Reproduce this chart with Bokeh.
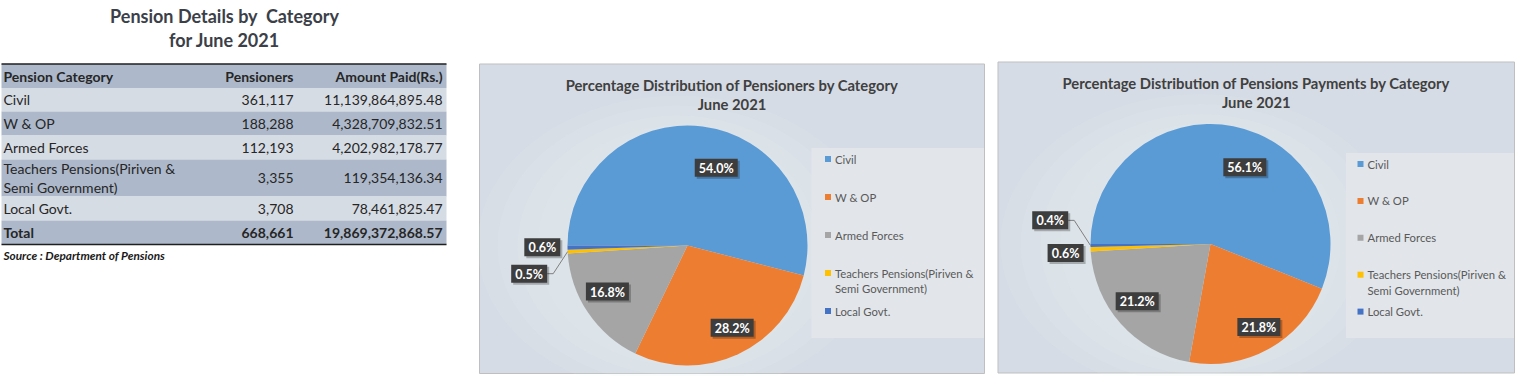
import numpy as np
from bokeh.plotting import figure
from bokeh.models import ColumnDataSource, Range1d
from bokeh.core.properties import value
from bokeh.embed import file_html
from bokeh.resources import INLINE

# ---------------- data ----------------
categories = ["Civil", "W & OP", "Armed Forces",
              "Teachers Pensions(Piriven &\nSemi Government)", "Local Govt."]
pensioners = [361117, 188288, 112193, 3355, 3708]
amounts = [11139864895.48, 4328709832.51, 4202982178.77, 119354136.34, 78461825.47]
total_pensioners = 668661
total_amount = 19869372868.57
table_title = ["Pension Details by\u00a0 Category", "for June 2021"]
table_headers = ["Pension Category", "Pensioners", "Amount Paid(Rs.)"]
source_note = "Source : Department of Pensions"
pie1_title = ["Percentage Distribution of Pensioners by Category", "June 2021"]
pie2_title = ["Percentage Distribution of Pensions Payments by Category", "June 2021"]
colors = ["#5b9bd5", "#ed7d31", "#a5a5a5", "#ffc000", "#4472c4"]

# ---------------- layout ----------------
W, H = 1519, 376
FONT = value("Lato")


def Y(ys):
    """screen y (px from top of window) -> data y"""
    return H - np.asarray(ys, dtype=float)


p = figure(width=W, height=H, x_range=Range1d(0, W), y_range=Range1d(0, H),
           output_backend="svg", toolbar_location=None, min_border=0,
           background_fill_color="white", border_fill_color="white")
p.axis.visible = False
p.grid.visible = False
p.outline_line_color = None


def txt(xs, ys, texts, size, color="#262626", align="left", style="normal",
        baseline="middle"):
    src = ColumnDataSource(dict(x=list(xs), y=list(Y(ys)), t=list(texts)))
    p.text(x="x", y="y", text="t", source=src, text_font=FONT,
           text_font_size=f"{size}px", text_color=color, text_align=align,
           text_baseline=baseline, text_font_style=style)


# ---------------- table ----------------
TX0, TX1 = 1, 446
txt([224, 224], [15, 39], table_title, 18, color="#3b4048", align="center", style="bold")

row_bounds = [63.5, 87.5, 111, 135, 159, 196, 220, 244]
band_dark, band_light = "#adb9ca", "#d6dce4"
for i in range(len(row_bounds) - 1):
    top, bot = row_bounds[i], row_bounds[i + 1]
    col = band_dark if i % 2 == 0 else band_light
    p.quad(left=TX0, right=TX1, top=Y(top), bottom=Y(bot), fill_color=col,
           line_color=None)
p.line(x=[TX0, TX1], y=list(Y([63.5, 63.5])), line_color="#1f1f1f", line_width=1.5)
p.line(x=[TX0, TX1], y=list(Y([244, 244])), line_color="#1f1f1f", line_width=1.5)

COL_L, COL_P, COL_A = 3, 293, 442
hy = (row_bounds[0] + row_bounds[1]) / 2
txt([COL_L], [hy], [table_headers[0]], 14, style="bold")
txt([COL_P, COL_A], [hy, hy], table_headers[1:], 14, align="right", style="bold")

for i, cat in enumerate(categories):
    top, bot = row_bounds[i + 1], row_bounds[i + 2]
    cy = (top + bot) / 2
    lines = cat.split("\n")
    n = len(lines)
    ly = [cy + (k - (n - 1) / 2) * 19 for k in range(n)]
    txt([COL_L] * n, ly, lines, 14)
    txt([COL_P, COL_A], [cy, cy], [f"{pensioners[i]:,}", f"{amounts[i]:,.2f}"], 14,
        align="right")

ty = (row_bounds[-2] + row_bounds[-1]) / 2
txt([COL_L], [ty], ["Total"], 14, style="bold")
txt([COL_P, COL_A], [ty, ty], [f"{total_pensioners:,}", f"{total_amount:,.2f}"], 14,
    align="right", style="bold")
txt([3], [255], [source_note], 11.8, color="#1a1a1a", style="bold italic")


# ---------------- pies ----------------
def draw_pie(box, title, vals, cx, cy, r, rho, delta, leg_box, leg_x, leg_y0, leg_dy):
    bx0, by0, bx1, by1 = box
    p.quad(left=bx0, right=bx1, top=Y(by0), bottom=Y(by1), fill_color="#d6dce5",
           line_color="#bfbfbf", line_width=1)
    # soft lighter glow behind pie
    for k in range(4):
        p.ellipse(x=cx - 10, y=Y(cy)[()], width=2 * r + 160 - k * 40,
                  height=2 * r + 60 - k * 20, fill_color="#eef1f5", fill_alpha=0.10,
                  line_color=None)
    lx0, ly0, lx1, ly1 = leg_box
    p.quad(left=lx0, right=lx1, top=Y(ly0), bottom=Y(ly1), fill_color="#e2e6eb",
           line_color=None)
    title_cx = (bx0 + bx1) / 2
    txt([title_cx, title_cx], [by0 + 21, by0 + 40], title, 14.8, color="#404040",
        align="center", style="bold")

    v = np.asarray(vals, dtype=float)
    frac = v / v.sum()
    cum = np.concatenate([[0.0], np.cumsum(frac)])
    start = np.radians(180 - cum[:-1] * 360)
    end = np.radians(180 - cum[1:] * 360)
    p.wedge(x=cx, y=Y(cy)[()], radius=r, start_angle=list(start), end_angle=list(end),
            direction="clock", fill_color=colors, line_color=None)

    mid = 180 - (cum[:-1] + cum[1:]) / 2 * 360
    ang = np.radians(mid + np.asarray(delta))
    rr = np.asarray(rho) * r
    lxs = cx + rr * np.cos(ang)
    lys = cy - rr * np.sin(ang)
    labels = [f"{f * 100:.1f}%" for f in frac]
    widths = np.array([8 + 7 * len(s) for s in labels], dtype=float)
    bh = 18
    # leader lines for far-out labels
    for i in range(len(vals)):
        if rho[i] > 1.3:
            ex = lxs[i] + widths[i] / 2
            m = np.radians(mid[i])
            px_, py_ = cx + r * np.cos(m), cy - r * np.sin(m)
            p.line(x=[ex, ex + 6, px_], y=list(Y([lys[i], lys[i], py_])),
                   line_color="#7f7f7f", line_width=1)
    # shadows
    p.quad(left=lxs - widths / 2 + 2, right=lxs + widths / 2 + 2,
           top=Y(lys - bh / 2 + 2), bottom=Y(lys + bh / 2 + 2), fill_color="#000000",
           fill_alpha=0.25, line_color=None)
    p.quad(left=lxs - widths / 2, right=lxs + widths / 2,
           top=Y(lys - bh / 2), bottom=Y(lys + bh / 2), fill_color="#3d3d3d",
           line_color=None)
    txt(lxs, lys + 0.5, labels, 12.5, color="white", align="center", style="bold")

    # legend
    for i, cat in enumerate(categories):
        yy = leg_y0 + i * leg_dy
        p.rect(x=leg_x, y=Y(yy)[()], width=6, height=6, fill_color=colors[i],
               line_color=None)
        lines = cat.split("\n")
        txt([leg_x + 7] * len(lines), [yy + k * 15.5 for k in range(len(lines))], lines,
            11.3, color="#595959")


draw_pie((479, 63.5, 984, 373), pie1_title, pensioners, 687, 245, 120,
         rho=[0.69, 0.78, 0.77, 1.34, 1.21], delta=[-13.1, 3.6, -4.1, 7.2, -0.3],
         leg_box=(811, 147.5, 983.5, 337.5), leg_x=827.5, leg_y0=158.5, leg_dy=38)
draw_pie((997.5, 61.5, 1514, 372.5), pie2_title, amounts, 1210, 243.5, 120,
         rho=[0.70, 0.80, 0.775, 1.21, 1.35], delta=[-13.2, 1.3, -3.7, 1.1, -9.1],
         leg_box=(1345.5, 152.5, 1513.5, 337.5), leg_x=1360, leg_y0=163.5, leg_dy=36.9)

open("out.html", "w").write(file_html(p, INLINE))
